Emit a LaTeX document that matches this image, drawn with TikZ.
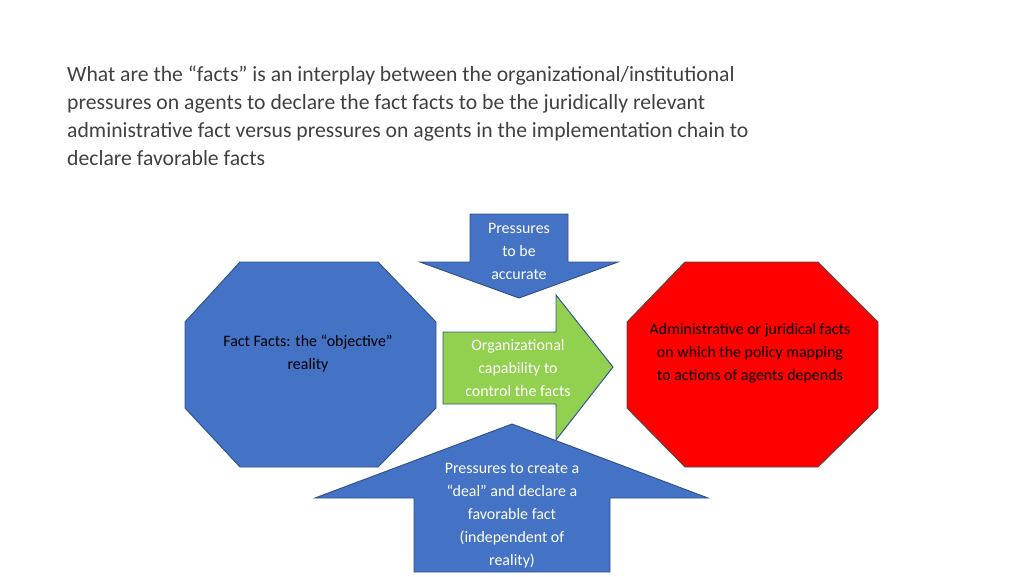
\documentclass[tikz,border=0pt]{standalone}
\usepackage{fontspec}
\setmainfont{Carlito}
\definecolor{blu}{HTML}{4472C4}
\definecolor{grn}{HTML}{92D050}
\definecolor{edge}{HTML}{2F528F}
\begin{document}
\begin{tikzpicture}[x=0.03cm,y=-0.03cm,
  shapeblue/.style={fill=blu,draw=edge,line width=0.8pt},
  lbl/.style={align=center,font=\fontsize{13.6pt}{19.6pt}\selectfont,inner sep=0pt},
  title/.style={align=left,font=\fontsize{18.5pt}{23.8pt}\selectfont,inner sep=0pt,text=black!75}]
\useasboundingbox (0,0) rectangle (1024,576);
% title
\node[title,anchor=north west] (t) at (67,66) {What are the “facts” is an interplay between the organizational/institutional\\pressures on agents to declare the fact facts to be the juridically relevant\\administrative fact versus pressures on agents in the implementation chain to\\declare favorable facts};
% left octagon
\draw[shapeblue] (240,262)--(378,262)--(436,322)--(436,408)--(378,467)--(240,467)--(185,408)--(185,322)--cycle;
% right octagon
\draw[fill=red,draw=black!70,line width=0.8pt] (685,262)--(818,262)--(878,322)--(878,408)--(818,467)--(685,467)--(627,408)--(627,322)--cycle;
% down arrow
\draw[shapeblue] (470,214)--(568,214)--(568,262)--(618,262)--(519,298)--(420,262)--(470,262)--cycle;
% green arrow
\draw[fill=grn,draw=edge,line width=0.8pt] (443,332)--(556,332)--(556,295)--(613,367)--(556,440)--(556,404)--(443,404)--cycle;
% up arrow
\draw[shapeblue] (512,424)--(708,498)--(610,498)--(610,572)--(414,572)--(414,498)--(315,498)--cycle;
% texts
\node[lbl,text=white] (pa) at (519,251) {Pressures\\to be\\accurate};
\node[lbl,text=white] (oc) at (518,368) {Organizational\\capability to\\control the facts};
\node[lbl] (ff) at (308,354) {Fact Facts: the “objective”\\reality};
\node[lbl] (ad) at (750,353) {Administrative or juridical facts\\on which the policy mapping\\to actions of agents depends};
\node[lbl,text=white] (pd) at (512,516) {Pressures to create a\\“deal” and declare a\\favorable fact\\(independent of\\reality)};
\end{tikzpicture}
\end{document}
